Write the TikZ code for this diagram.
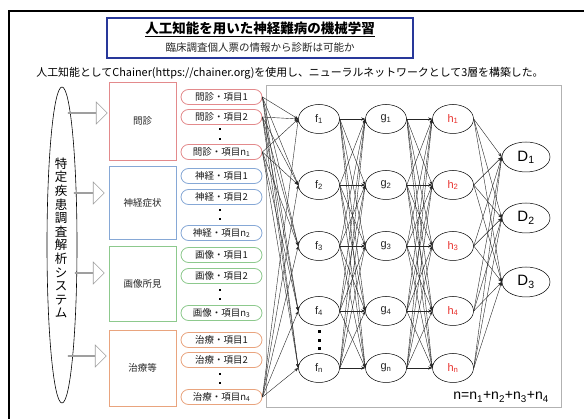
\documentclass[tikz,border=0pt]{standalone}
\usepackage{fontspec}
\setmainfont{Liberation Sans}
\newfontfamily\jp{Noto Sans CJK JP}
\usetikzlibrary{shapes.geometric,shapes.arrows,arrows.meta}
\definecolor{cred}{HTML}{E38A8C}
\definecolor{cblue}{HTML}{86A8D6}
\definecolor{cgreen}{HTML}{8DC98D}
\definecolor{corange}{HTML}{E9A47E}
\definecolor{tblue}{HTML}{28389A}
\definecolor{hred}{HTML}{E8322E}
\begin{document}
\begin{tikzpicture}[x=1pt,y=-1pt,
  catbox/.style={draw, line width=0.8pt, minimum width=67pt, inner sep=0pt, font=\jp\fontsize{9.5}{10}\selectfont, text=black!85},
  itembox/.style={draw, line width=0.8pt, rounded corners=7.5pt, minimum width=81pt, minimum height=15pt, inner sep=0pt, font=\jp\fontsize{9.5}{10}\selectfont, text=black!90},
  neuron/.style={ellipse, draw, line width=0.5pt, minimum width=41pt, minimum height=29pt, inner sep=0pt, font=\fontsize{11}{12}\selectfont, text=black!85},
  outnode/.style={ellipse, draw, line width=0.5pt, minimum width=48pt, minimum height=30pt, inner sep=0pt, font=\fontsize{15}{16}\selectfont},
  conn/.style={-{Stealth[length=4pt,width=3pt]}, line width=0.4pt, black!85},
  blockarr/.style={single arrow, draw=gray!75, fill=white, line width=0.6pt, minimum width=22pt, single arrow head extend=6pt, inner sep=0pt},
  dotmark/.style={fill=black, minimum size=2.6pt, inner sep=0pt}
]
\useasboundingbox (0,0) rectangle (584,419);
\fill[white] (0,0) rectangle (584,419);
% outer frame
\draw[line width=2.6pt] (9,419) -- (9,11) -- (584,11);

% title
\node[draw=tblue, line width=1.8pt, minimum width=306pt, minimum height=40pt, inner sep=0pt] (titlebox) at (260,38) {};
\node[font=\jp\bfseries\fontsize{13.5}{15}\selectfont, inner sep=0pt] (title) at (260,29) {\underline{人工知能を用いた神経難病の機械学習}};
\node[font=\jp\fontsize{10.5}{12}\selectfont, inner sep=0pt, text=black!85] (subtitle) at (260,48) {臨床調査個人票の情報から診断は可能か};
\node[font=\jp\fontsize{10.9}{12}\selectfont, inner sep=0pt] (desc) at (290,73) {人工知能としてChainer(https://chainer.org)を使用し、ニューラルネットワークとして3層を構築した。};

% system ellipse
\node[ellipse, draw, line width=0.6pt, minimum width=30pt, minimum height=316pt, inner sep=0pt] (sys) at (62,245) {};
\node[font=\jp\fontsize{12.5}{13.6}\selectfont, align=center, inner sep=0pt] (systxt) at (61,238) {特\\定\\疾\\患\\調\\査\\解\\析\\シ\\ス\\テ\\ム};

% block arrows
\node[blockarr, minimum height=39pt] (a1) at (87.5,113) {};
\node[blockarr, minimum height=30pt] (a2) at (89,193) {};
\node[blockarr, minimum height=29pt] (a3) at (89.5,273) {};
\node[blockarr, minimum height=38pt] (a4) at (87,356) {};

% category boxes
\node[catbox, draw=cred, minimum height=78pt] (c1) at (142.5,121) {問診};
\node[catbox, draw=cblue, minimum height=73pt] (c2) at (142.5,202.5) {神経症状};
\node[catbox, draw=cgreen, minimum height=75pt] (c3) at (142.5,283.5) {画像所見};
\node[catbox, draw=corange, minimum height=76pt] (c4) at (142.5,368) {治療等};

% items
\node[itembox, draw=cred] (m1) at (221.5,97) {問診・項目1};
\node[itembox, draw=cred] (m2) at (221.5,117) {問診・項目2};
\node[itembox, draw=cred] (m3) at (221.5,152) {問診・項目n\textsubscript{1}};
\node[dotmark] (md1) at (220,129) {};
\node[dotmark] (md2) at (220,139) {};
\node[itembox, draw=cblue] (s1) at (221.5,176) {神経・項目1};
\node[itembox, draw=cblue] (s2) at (221.5,197) {神経・項目2};
\node[itembox, draw=cblue] (s3) at (221.5,233) {神経・項目n\textsubscript{2}};
\node[dotmark] (sd1) at (220,210) {};
\node[dotmark] (sd2) at (220,219) {};
\node[itembox, draw=cgreen] (i1) at (221.5,255) {画像・項目1};
\node[itembox, draw=cgreen] (i2) at (221.5,276) {画像・項目2};
\node[itembox, draw=cgreen] (i3) at (221.5,313) {画像・項目n\textsubscript{3}};
\node[dotmark] (id1) at (220,290) {};
\node[dotmark] (id2) at (220,299) {};
\node[itembox, draw=corange] (t1) at (221.5,340) {治療・項目1};
\node[itembox, draw=corange] (t2) at (221.5,360) {治療・項目2};
\node[itembox, draw=corange] (t3) at (221.5,397) {治療・項目n\textsubscript{4}};
\node[dotmark] (td1) at (220,374) {};
\node[dotmark] (td2) at (220,383) {};

% network frame
\node[draw=gray!60, line width=0.6pt, minimum width=295pt, minimum height=322pt, inner sep=0pt] (nnframe) at (413.5,246) {};

% neurons
\foreach \i/\y in {1/119,2/185,3/246,4/311,5/368}{
  \ifnum\i=5 \def\lab{n}\else \def\lab{\i}\fi
  \node[neuron] (f\i) at (319,\y) {f\textsubscript{\lab}};
  \node[neuron] (g\i) at (386,\y) {g\textsubscript{\lab}};
  \node[neuron, text=hred] (h\i) at (453,\y) {h\textsubscript{\lab}};
}
\node[dotmark, minimum size=3pt] (fd1) at (319,332) {};
\node[dotmark, minimum size=3pt] (fd2) at (319,340.5) {};
\node[dotmark, minimum size=3pt] (fd3) at (319,349) {};

\node[outnode] (D1) at (526,157) {D\textsubscript{1}};
\node[outnode] (D2) at (526,218) {D\textsubscript{2}};
\node[outnode] (D3) at (526,282) {D\textsubscript{3}};

% connections
\foreach \s in {m1,m2,m3,t3}{
  \foreach \j in {1,...,5}{ \draw[conn] (\s.east) -- (f\j.west); }
}
\foreach \i in {1,...,5}{
  \foreach \j in {1,...,5}{
    \draw[conn] (f\i.east) -- (g\j.west);
    \draw[conn] (g\i.east) -- (h\j.west);
  }
  \foreach \k in {1,2,3}{ \draw[conn] (h\i.east) -- (D\k.west); }
}

\node[font=\fontsize{14}{15}\selectfont, anchor=east, inner sep=0pt] (nsum) at (549,397) {n=n\textsubscript{1}+n\textsubscript{2}+n\textsubscript{3}+n\textsubscript{4}};
\end{tikzpicture}
\end{document}
